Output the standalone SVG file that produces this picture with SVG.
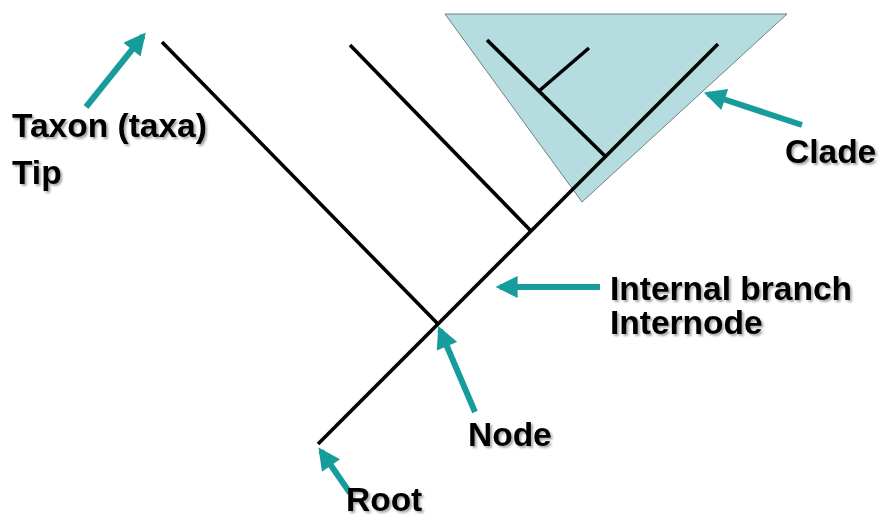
<svg xmlns="http://www.w3.org/2000/svg" width="880" height="519" viewBox="0 0 880 519">
  <defs>
    <style>
      .branch { stroke: #000; stroke-width: 3.6; stroke-linecap: butt; fill: none; }
      .pointer { stroke: #169c9a; stroke-width: 6; fill: none; marker-end: url(#head); }
      .label { font-family: "Liberation Sans", Arial, sans-serif; font-weight: bold; font-size: 33.5px; fill: #000; filter: url(#shadow); }
      .clade { fill: #b5dde0; stroke: #6f8082; stroke-width: 1; }
    </style>
    <marker id="head" viewBox="0 0 10 10" refX="8" refY="5" markerWidth="24" markerHeight="22" markerUnits="userSpaceOnUse" orient="auto">
      <path d="M0,0 L10,5 L0,10 Z" fill="#169c9a"/>
    </marker>
    <filter id="shadow" x="-10%" y="-20%" width="130%" height="150%">
      <feDropShadow dx="2" dy="2" stdDeviation="1" flood-color="#000" flood-opacity="0.35"/>
    </filter>
  </defs>

  <!-- shaded clade -->
  <g id="clade-region">
    <polygon class="clade" points="445,14 787,14 582,202"/>
  </g>

  <!-- tree branches -->
  <g id="tree">
    <line class="branch" x1="318" y1="444" x2="718" y2="44"/>
    <line class="branch" x1="162" y1="42" x2="438" y2="324"/>
    <line class="branch" x1="350" y1="45" x2="531" y2="231"/>
    <line class="branch" x1="487" y1="40" x2="606" y2="157"/>
    <line class="branch" x1="539" y1="91" x2="589" y2="48"/>
  </g>

  <!-- pointer arrows -->
  <g id="connectors">
    <line class="pointer" x1="86" y1="107" x2="143" y2="36"/>
    <line class="pointer" x1="802" y1="125" x2="708" y2="94"/>
    <line class="pointer" x1="600" y1="287" x2="500" y2="287"/>
    <line class="pointer" x1="475" y1="412" x2="440" y2="330"/>
    <line class="pointer" x1="350" y1="493" x2="321" y2="451"/>
  </g>

  <g id="taxon-label">
    <text class="label" x="12" y="137">Taxon (taxa)</text>
    <text class="label" x="12" y="184">Tip</text>
  </g>
  <g id="clade-label">
    <text class="label" x="785" y="163">Clade</text>
  </g>
  <g id="internal-branch-label">
    <text class="label" x="610" y="300">Internal branch</text>
    <text class="label" x="610" y="334">Internode</text>
  </g>
  <g id="node-label">
    <text class="label" x="468" y="446">Node</text>
  </g>
  <g id="root-label">
    <text class="label" x="346" y="511">Root</text>
  </g>
</svg>
